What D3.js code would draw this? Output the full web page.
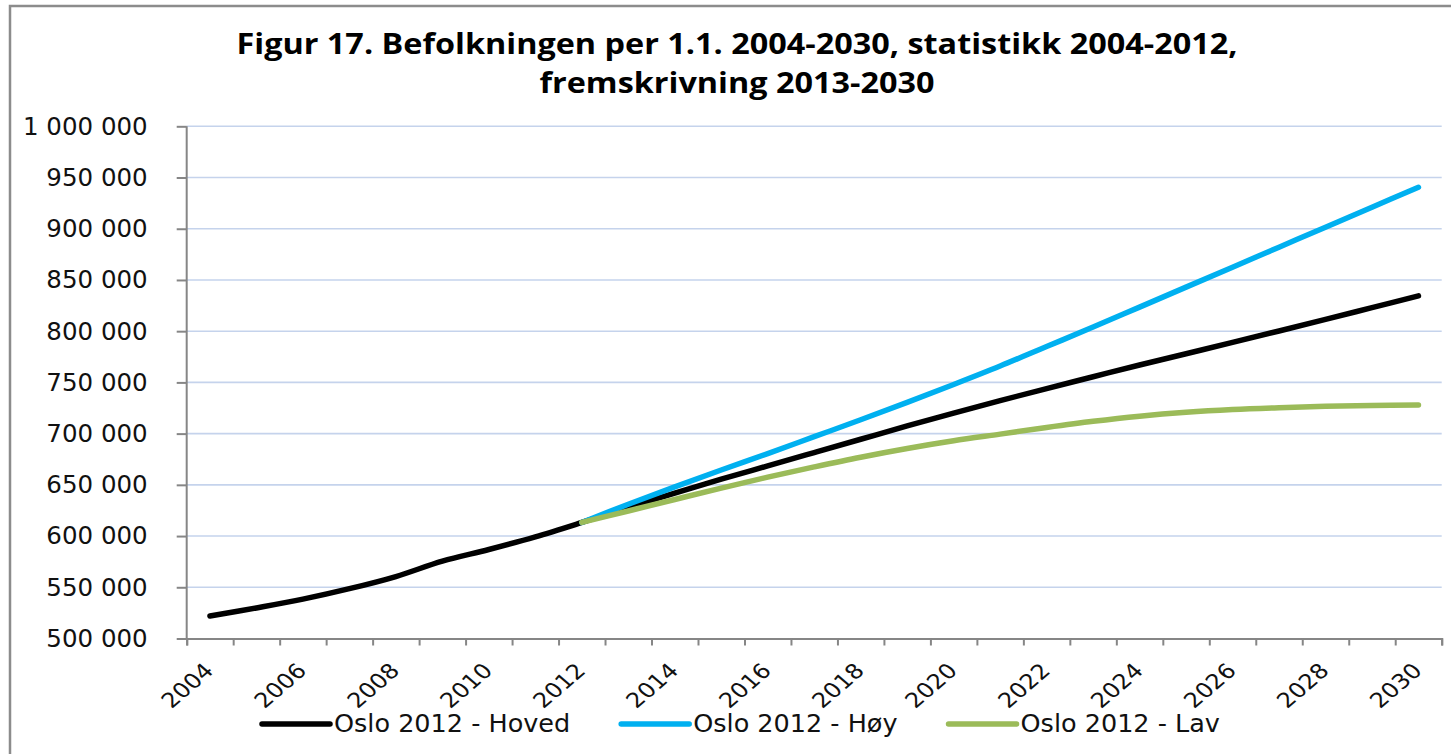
<html>
<head>
    <script src="https://cdnjs.cloudflare.com/ajax/libs/d3/7.8.5/d3.min.js"></script>
    <style>
        body { margin: 0; background: white; }
    </style>
</head>
<body>
<script>

// years on the category axis
var years = d3.range(2004, 2031);
var tickYears = years.filter(y => y % 2 == 0);

// statistikk 2004-2012 + hovedalternativ 2013-2030
var hoved = [521886, 529846, 538411, 548617, 560484, 575475, 586860, 599230, 613285,
             628000, 642000, 655500, 668500, 681500, 694500, 707500, 720000, 732200,
             744000, 755500, 767000, 778000, 789000, 800200, 811500, 823000, 834500];
// høy and lav start in 2012
var hoy = [613285, 631000, 648000, 664500, 680500, 697000, 713500, 730500, 748000, 766000,
           785000, 804000, 823500, 843000, 862500, 882000, 901500, 921000, 940500];
var lav = [613285, 624500, 635700, 646800, 657500, 667500, 677000, 685500, 693000, 699500,
           706000, 712000, 717000, 720800, 723500, 725300, 726600, 727500, 728000];

var seriesNames = ["Oslo 2012 - Hoved", "Oslo 2012 - Høy", "Oslo 2012 - Lav"];
var colors = ["#000000", "#00b0f0", "#9bbb59"];
var yTicks = d3.range(500000, 1000001, 50000);

var titleLines = ["Figur 17. Befolkningen per 1.1. 2004-2030, statistikk 2004-2012,",
                  "fremskrivning 2013-2030"];

var W = 1451, H = 754;
var plotLeft = 186.7, plotRight = 1441.7, plotTop = 126.3, plotBottom = 638.5;

var svg = d3.select("body").append("svg")
    .attr("width", W)
    .attr("height", H);

// outer frame
svg.append("rect")
    .attr("x", 10).attr("y", 6)
    .attr("width", W + 20).attr("height", H + 20)
    .attr("fill", "white")
    .attr("stroke", "#8c8c8c")
    .attr("stroke-width", 2.5);

var x = d3.scaleBand().domain(years).range([plotLeft, plotRight]).padding(0);
var xb = d3.scaleLinear().domain([0, years.length]).range([plotLeft, plotRight]);
var y = d3.scaleLinear().domain([500000, 1000000]).range([plotBottom, plotTop]);

// title (stretched a bit to the width of the original)
var titles = svg.append("g").selectAll("text")
    .data(titleLines)
    .enter().append("text")
    .attr("x", 737)
    .attr("y", (d, i) => 54 + i * 39)
    .attr("text-anchor", "middle")
    .style("font-family", "Open Sans")
    .style("font-weight", "bold")
    .style("font-size", "28px")
    .text(d => d);
var stretch = 1001 / titles.nodes()[0].getComputedTextLength();
titles.each(function () {
    d3.select(this)
        .attr("textLength", this.getComputedTextLength() * stretch)
        .attr("lengthAdjust", "spacingAndGlyphs");
});

// gridlines
svg.append("g").selectAll("line")
    .data(yTicks.slice(1))
    .enter().append("line")
    .attr("x1", plotLeft).attr("x2", plotRight)
    .attr("y1", d => y(d)).attr("y2", d => y(d))
    .attr("stroke", "#c5d3ec")
    .attr("stroke-width", 1.6);

// y axis
var yAxisGroup = svg.append("g")
    .attr("transform", "translate(" + plotLeft + ",0)");
var yAxis = d3.axisLeft(y)
    .tickValues(yTicks)
    .tickSize(10)
    .tickPadding(29)
    .tickFormat(d => d3.format(",")(d).replace(/,/g, " "));
yAxis(yAxisGroup);
yAxisGroup.selectAll("line, path").attr("stroke", "#868686").attr("stroke-width", 2);
yAxisGroup.select(".domain").attr("d", "M0," + plotTop + "V" + plotBottom);
yAxisGroup.selectAll("text")
    .style("font-family", "DejaVu Sans")
    .style("font-size", "24.5px")
    .attr("fill", "#111");

// x axis - ticks between categories
var xAxisGroup = svg.append("g")
    .attr("transform", "translate(0," + plotBottom + ")");
d3.axisBottom(xb).tickValues(d3.range(years.length + 1)).tickSize(7).tickFormat("")(xAxisGroup);
xAxisGroup.selectAll("line, path").attr("stroke", "#868686").attr("stroke-width", 2);

var xLabelGroup = svg.append("g")
    .attr("transform", "translate(0," + plotBottom + ")");
d3.axisBottom(x).tickValues(tickYears).tickSize(0)(xLabelGroup);
xLabelGroup.select(".domain").remove();
xLabelGroup.selectAll("text")
    .attr("x", 0).attr("y", 0).attr("dy", 0)
    .attr("text-anchor", "end")
    .attr("transform", "translate(5,33.5) scale(1.05,0.9) rotate(-45)")
    .attr("fill", "#111")
    .style("font-family", "DejaVu Sans")
    .style("font-size", "23px");

// lines
var allSeries = [
    years.map((yr, i) => ({year: yr, v: hoved[i]})),
    years.slice(8).map((yr, i) => ({year: yr, v: hoy[i]})),
    years.slice(8).map((yr, i) => ({year: yr, v: lav[i]}))
];

var line = d3.line()
    .x(d => x(d.year) + x.bandwidth() / 2)
    .y(d => y(d.v))
    .curve(d3.curveCatmullRom.alpha(0.5));

for (var i = 0; i < allSeries.length; i++) {
    svg.append("path")
        .datum(allSeries[i])
        .attr("fill", "none")
        .attr("stroke", colors[i])
        .attr("stroke-width", 5.5)
        .attr("stroke-linecap", "round")
        .attr("stroke-linejoin", "round")
        .attr("d", line);
}

// legend
var legend = svg.append("g");
var lx = 262;
for (var i = 0; i < seriesNames.length; i++) {
    legend.append("line")
        .attr("x1", lx).attr("x2", lx + 68)
        .attr("y1", 724).attr("y2", 724)
        .attr("stroke", colors[i])
        .attr("stroke-width", 5.5)
        .attr("stroke-linecap", "round");
    var t = legend.append("text")
        .attr("x", lx + 72)
        .attr("y", 732)
        .attr("fill", "#111")
        .style("font-family", "DejaVu Sans")
        .style("font-size", "25.5px")
        .text(seriesNames[i]);
    lx = lx + 72 + t.node().getComputedTextLength() + 51;
}

</script>
</body>
</html>
